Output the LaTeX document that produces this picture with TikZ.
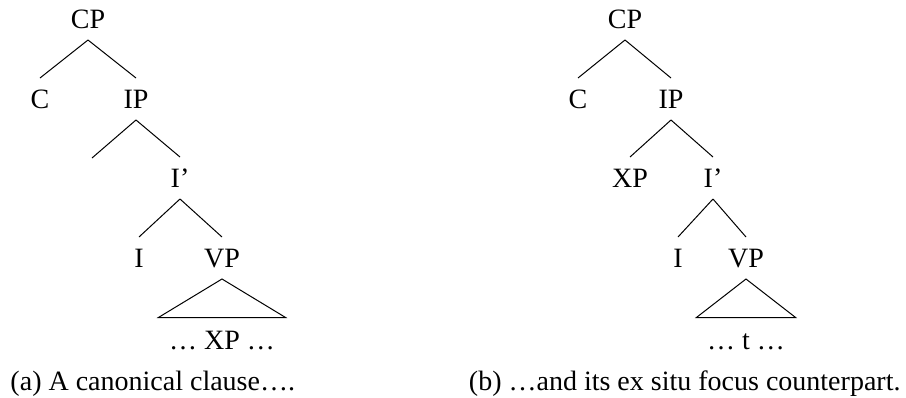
\documentclass[tikz,border=0pt]{standalone}
\usepackage{fontspec}
\setmainfont{Liberation Serif}
\usetikzlibrary{positioning}

\begin{document}
\begin{tikzpicture}[
  font=\fontsize{14}{17}\selectfont,
  line width=0.5pt,
  on grid,
  cat/.style={inner sep=0pt, minimum height=20.5pt, text height=9.2pt, text depth=0pt},
  yield/.style={inner ysep=0pt, inner xsep=5.1pt, minimum height=22pt, text height=9.2pt, text depth=0pt},
  caption/.style={anchor=base west, inner sep=0pt}
]
\useasboundingbox (0,0) rectangle (453pt,-198.5pt);

%------------------------------------------------
% (a) canonical clause
%------------------------------------------------
\node[cat] (cp_a) at (44pt,-9.5pt) {CP};
\node[cat, below left=40pt and 24pt of cp_a] (c_a) {C};
\node[cat, below right=40pt and 24pt of cp_a] (ip_a) {IP};
\coordinate[below left=29.5pt and 22pt of ip_a] (spec_a);
\node[cat, below right=39.5pt and 22pt of ip_a] (ibar_a) {I’};
\node[cat, below left=40pt and 20.5pt of ibar_a] (i_a) {I};
\node[cat, below right=40pt and 21pt of ibar_a] (vp_a) {VP};
\node[yield, below=41pt of vp_a] (xp_a) {… XP …};

\draw (cp_a.south) -- (c_a.north);
\draw (cp_a.south) -- (ip_a.north);
\draw (ip_a.south) -- (spec_a);
\draw (ip_a.south) -- (ibar_a.north);
\draw (ibar_a.south) -- (i_a.north);
\draw (ibar_a.south) -- (vp_a.north);
\draw (vp_a.south) -- (xp_a.north west) -- (xp_a.north east) -- cycle;

\node[caption] (cap_a) at (5pt,-195pt) {(a) A canonical clause….};

%------------------------------------------------
% (b) ex situ focus
%------------------------------------------------
\node[cat] (cp_b) at (312.5pt,-9.5pt) {CP};
\node[cat, below left=40pt and 23.5pt of cp_b] (c_b) {C};
\node[cat, below right=40pt and 23pt of cp_b] (ip_b) {IP};
\node[cat, below left=39.5pt and 20.5pt of ip_b] (xp_b) {XP};
\node[cat, below right=39.5pt and 21pt of ip_b] (ibar_b) {I’};
\node[cat, below left=40pt and 17.5pt of ibar_b] (i_b) {I};
\node[cat, below right=40pt and 16.5pt of ibar_b] (vp_b) {VP};
\node[yield, below=41pt of vp_b] (t_b) {… t …};

\draw (cp_b.south) -- (c_b.north);
\draw (cp_b.south) -- (ip_b.north);
\draw (ip_b.south) -- (xp_b.north);
\draw (ip_b.south) -- (ibar_b.north);
\draw (ibar_b.south) -- (i_b.north);
\draw (ibar_b.south) -- (vp_b.north);
\draw (vp_b.south) -- (t_b.north west) -- (t_b.north east) -- cycle;

\node[caption, anchor=base east] (cap_b) at (450.5pt,-195pt) {(b) …and its ex situ focus counterpart.};

\end{tikzpicture}
\end{document}
